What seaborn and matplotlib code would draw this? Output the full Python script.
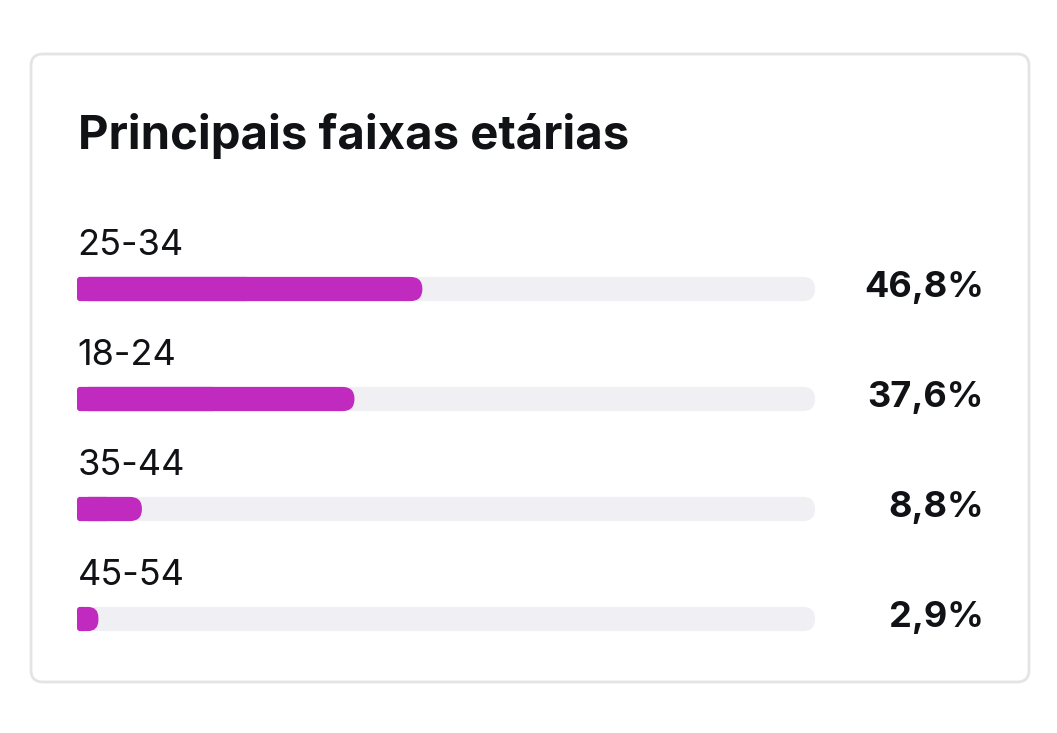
import matplotlib.pyplot as plt
import seaborn as sns
import pandas as pd
from matplotlib.patches import FancyBboxPatch

faixas = ["25-34", "18-24", "35-44", "45-54"]
percentuais = [46.8, 37.6, 8.8, 2.9]
titulo = "Principais faixas etárias"

ROXO = "#c02abf"
TRILHA = "#f0f0f4"
TEXTO = "#111215"
BORDA = "#e4e4e7"

W, H = 1057, 733
sns.set_theme(style="white")
plt.rcParams["font.family"] = ["Inter", "DejaVu Sans"]

df = pd.DataFrame({"faixa": faixas, "pct": percentuais, "total": [100] * len(faixas)})

fig = plt.figure(figsize=(W / 100, H / 100), dpi=100)
fig.patch.set_facecolor("white")

# card outline, kept behind the axes
card = FancyBboxPatch((31 / W, 1 - 682 / H), 998 / W, 628 / H,
                      boxstyle="round,pad=0,rounding_size=%f" % (12 / W),
                      mutation_aspect=W / H, transform=fig.transFigure,
                      facecolor="none", edgecolor=BORDA, linewidth=2, zorder=-1)
fig.patches.append(card)

fig.text(78 / W, 1 - 149 / H, titulo, fontsize=34, fontweight="bold",
         color=TEXTO, va="baseline", ha="left")

ax = fig.add_axes([77 / W, (H - 674) / H, 738 / W, 440 / H])
ax.set_facecolor("none")

sns.barplot(data=df, y="faixa", x="total", color=TRILHA, orient="h",
            width=0.22, ax=ax, saturation=1)
n_trilha = len(ax.patches)
sns.barplot(data=df, y="faixa", x="pct", color=ROXO, orient="h",
            width=0.22, ax=ax, saturation=1)

ax.set_xlim(0, 100)
ax.set_ylim(3.5, -0.5)

# pixel scale of the axes, for round ends
px_x = 738 / 100
px_y = 440 / 4
aspect = px_x / px_y
raio = 12 / px_x

for k, p in enumerate(list(ax.patches)):
    x0, y0, w, h = p.get_x(), p.get_y(), p.get_width(), p.get_height()
    cor = p.get_facecolor()
    p.remove()
    z = 1 if k < n_trilha else 2
    ax.add_patch(FancyBboxPatch((x0, y0), w, h,
                                boxstyle="round,pad=0,rounding_size=%f" % min(raio, w / 2),
                                mutation_aspect=aspect, facecolor=cor,
                                edgecolor="none", zorder=z))
    if k >= n_trilha:
        # left end of the fill is almost square
        ax.add_patch(FancyBboxPatch((x0, y0), w / 2, h,
                                    boxstyle="round,pad=0,rounding_size=%f" % min(3 / px_x, w / 4),
                                    mutation_aspect=aspect, facecolor=cor,
                                    edgecolor="none", zorder=z))

for i, (faixa, pct) in enumerate(zip(faixas, percentuais)):
    ax.text(0.1, i - 0.31, faixa, fontsize=26, color=TEXTO,
            va="baseline", ha="left")
    rotulo = f"{pct:.1f}%".replace(".", ",")
    ax.text(122.9, i + 0.07, rotulo, fontsize=26, fontweight="bold",
            color=TEXTO, va="baseline", ha="right", clip_on=False)

ax.set_xlabel("")
ax.set_ylabel("")
ax.set_xticks([])
ax.set_yticks([])
sns.despine(ax=ax, left=True, bottom=True)

fig.savefig("out.png", dpi=100)
